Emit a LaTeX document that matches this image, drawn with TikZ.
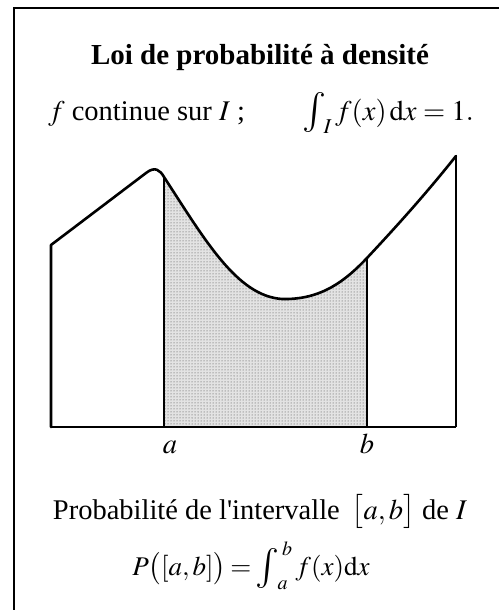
\documentclass[tikz,border=0pt]{standalone}
\usepackage{mathptmx}
\usepackage[no-math]{fontspec}
\setmainfont{Liberation Serif}[Ligatures=TeXOff]
\usetikzlibrary{patterns}
\newcommand{\bigint}{\mathop{\vcenter{\hbox{\fontsize{40}{40}\selectfont$\textstyle\int$}}}\nolimits}
\begin{document}
\begin{tikzpicture}[x=1pt,y=-1pt,
  frameline/.style={line width=1.8pt},
  curveline/.style={line width=2.6pt,line join=round,line cap=round},
  edgeline/.style={line width=1.8pt},
  txt/.style={anchor=base,inner sep=0pt,font=\fontsize{28.5}{32}\selectfont},
  ttl/.style={anchor=base,inner sep=0pt,font=\fontsize{29}{32}\selectfont\bfseries}]
\useasboundingbox (0,0) rectangle (499,610);
% frame (left and top edges)
\coordinate (fbl) at (14,610);
\coordinate (ftl) at (14,8);
\coordinate (ftr) at (499,8);
\draw[frameline] (fbl) -- (ftl) -- (ftr);
% key points
\coordinate (L0) at (51,427);
\coordinate (L1) at (51,245);
\coordinate (P1) at (146,173);
\coordinate (A1) at (164,177);
\coordinate (A0) at (164,427);
\coordinate (M) at (282,299);
\coordinate (B1) at (367,258);
\coordinate (B0) at (367,427);
\coordinate (R1) at (456,156);
\coordinate (R0) at (456,427);
% shaded area
\fill[gray!22] (A0) -- (A1) .. controls (205,240) and (237,296) .. (M)
  .. controls (322,300) and (346,280) .. (B1) -- (B0) -- cycle;
\fill[pattern=dots,pattern color=black!75] (A0) -- (A1) .. controls (205,240) and (237,296) .. (M)
  .. controls (322,300) and (346,280) .. (B1) -- (B0) -- cycle;
% edges
\draw[edgeline] (L0) -- (R0);
\draw[edgeline] (A0) -- (A1);
\draw[edgeline] (B0) -- (B1);
\draw[edgeline] (R0) -- (R1);
\draw[curveline] (L0) -- (L1) -- (P1) .. controls (155,166) and (160,170) .. (A1)
  .. controls (205,240) and (237,296) .. (M)
  .. controls (322,300) and (346,280) .. (B1)
  .. controls (395,228) and (425,195) .. (R1);
% labels
\node[txt] (la) at (170,453) {$a$};
\node[txt] (lb) at (367,453) {$b$};
\node[ttl] (title) at (260,64) {Loi de probabilité à densité};
\node[txt] (l2) at (261,120) {$f$ continue sur $I$ ;\qquad $\bigint_{\!I} f(x)\,\mathrm{d}x=1.$};
\node[txt] (l3) at (260,519) {Probabilité de l'intervalle \,$\bigl[a,b\bigr]$ de $I$};
\node[txt,font=\fontsize{27}{30}\selectfont] (l4) at (251,575) {$\thickmuskip=3mu P\bigl([a,b]\bigr)=\bigint_{\!a}^{\,b} f(x)\mathrm{d}x$};
\end{tikzpicture}
\end{document}
